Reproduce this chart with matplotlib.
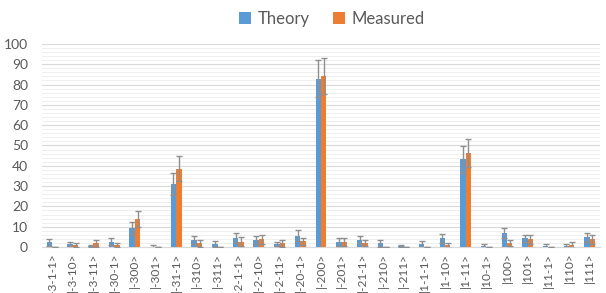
import matplotlib
matplotlib.use("Agg")
import matplotlib.pyplot as plt
import numpy as np

categories = ["|-3-1-1>", "|-3-10>", "|-3-11>", "|-30-1>", "|-300>", "|-301>", "|-31-1>",
              "|-310>", "|-311>", "|-2-1-1>", "|-2-10>", "|-2-11>", "|-20-1>", "|-200>",
              "|-201>", "|-21-1>", "|-210>", "|-211>", "|1-1-1>", "|1-10>", "|1-11>",
              "|10-1>", "|100>", "|101>", "|11-1>", "|110>", "|111>"]
theory = [2.3, 1.3, 0.6, 2.7, 9.3, 0.0, 31.0, 3.6, 1.5, 4.5, 3.4, 1.4, 5.6, 82.9,
          2.5, 3.5, 1.8, 0.4, 1.3, 4.3, 43.2, 0.7, 6.9, 4.2, 0.3, 0.4, 4.8]
theory_err = [1.8, 1.0, 0.6, 1.5, 3.2, 0.8, 5.3, 1.9, 1.4, 2.5, 2.1, 1.0, 2.8, 9.2,
              1.8, 2.1, 1.7, 0.6, 1.6, 2.1, 6.6, 1.0, 2.5, 1.9, 1.3, 0.9, 2.3]
measured = [0.0, 1.0, 1.9, 1.0, 13.8, 0.0, 38.5, 1.8, 0.0, 2.7, 3.7, 1.9, 2.8, 84.3,
            2.5, 2.0, 0.0, 0.0, 0.0, 0.8, 46.2, 0.0, 1.9, 3.7, 0.0, 0.8, 3.7]
measured_err = [0.0, 1.0, 1.7, 1.0, 4.0, 0.0, 6.2, 1.8, 0.0, 2.1, 2.1, 1.7, 1.8, 9.0,
                1.8, 1.5, 0.0, 0.0, 0.0, 1.3, 6.9, 0.0, 1.6, 2.3, 0.0, 1.5, 2.4]

plt.rcParams['font.family'] = ['Lato', 'DejaVu Sans']

fig = plt.figure(figsize=(6.06, 2.93), dpi=100)
ax = fig.add_axes([0.069, 0.157, 0.921, 0.693])

x = np.arange(len(categories))
w = 0.26
blue = "#5B9BD5"
orange = "#ED7D31"
errc = "#8f8f8f"
ekw = dict(ecolor=errc, elinewidth=1.0, capsize=2.2, capthick=1.0)

ax.bar(x - w/2, theory, w, color=blue, label="Theory", yerr=theory_err, error_kw=ekw, zorder=3)
ax.bar(x + w/2, measured, w, color=orange, label="Measured", yerr=measured_err, error_kw=ekw, zorder=3)

ax.set_xlim(-0.5, len(categories) - 0.5)
ax.set_ylim(0, 100)
ax.set_yticks(np.arange(0, 101, 10))
ax.set_yticks(np.arange(0, 101, 2), minor=True)
ax.grid(axis='y', which='major', color='#d9d9d9', linewidth=0.8, zorder=0)
ax.grid(axis='y', which='minor', color='#efefef', linewidth=0.7, zorder=0)
ax.set_axisbelow(True)

ax.set_xticks(x)
ax.set_xticklabels(categories, rotation=90, fontsize=8.6, color='#595959', va='top')
ax.tick_params(axis='y', which='both', length=0, labelsize=10, labelcolor='#595959', pad=10)
ax.tick_params(axis='x', length=0, pad=4)
for s in ['top', 'right', 'left']:
    ax.spines[s].set_visible(False)
ax.spines['bottom'].set_color('#d9d9d9')

fig.legend(loc='upper center', bbox_to_anchor=(0.548, 1.015), ncol=2, frameon=False,
           fontsize=12, handlelength=0.7, handleheight=0.7, handletextpad=0.4,
           columnspacing=1.4, labelcolor='#595959')

fig.savefig("out.png", dpi=100)
